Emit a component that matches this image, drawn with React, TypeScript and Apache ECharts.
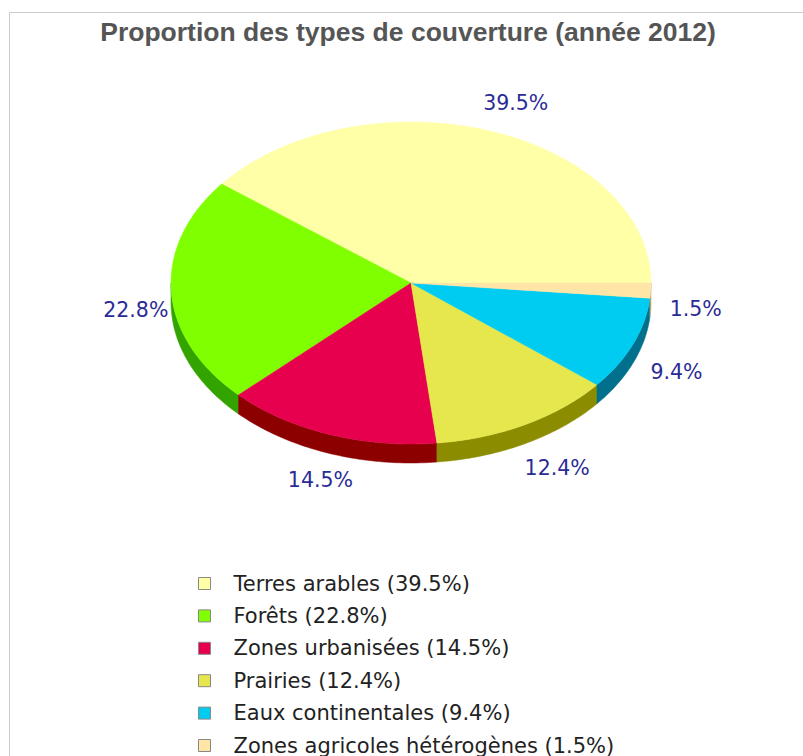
import React, { useEffect, useRef } from "react";
import * as echarts from "echarts";

const categories = [
  "Terres arables",
  "Forêts",
  "Zones urbanisées",
  "Prairies",
  "Eaux continentales",
  "Zones agricoles hétérogènes",
];
const shares = [39.5, 22.8, 14.5, 12.4, 9.4, 1.5];
const topColors = ["#FFFFA8", "#80FF00", "#E6004D", "#E6E64D", "#00CCF2", "#FFE6A6"];
const sideColors = ["#B3B375", "#33A300", "#8C0000", "#8C8C00", "#00708C", "#B3A174"];
const titleText = "Proportion des types de couverture (année 2012)";

export default function App() {
  const ref = useRef<HTMLDivElement>(null);
  useEffect(() => {
    if (!ref.current) return;
    const chart = echarts.init(ref.current, null, { renderer: "svg" });
    const total = shares.reduce((a, b) => a + b, 0);
    const cx = 411, cy = 283, rx = 240, ry = 161, depth = 19;
    const rad = (d: number) => (d * Math.PI) / 180;
    const pt = (a: number, dy = 0) => [cx + rx * Math.cos(rad(a)), cy - ry * Math.sin(rad(a)) + dy];

    const makeRender = (i: number) => (params: any, api: any) => {
      const before = shares.slice(0, i).reduce((a, b) => a + b, 0);
      const start = (before / total) * 360;
      const end = ((before + shares[i]) / total) * 360;
      const children: any[] = [];
      const lo = Math.max(start, 180), hi = Math.min(end, 360);
      if (hi > lo) {
        const topEdge: number[][] = [];
        const n = Math.max(2, Math.ceil(hi - lo));
        for (let k = 0; k <= n; k++) topEdge.push(pt(lo + ((hi - lo) * k) / n));
        const bottomEdge = topEdge.map((p) => [p[0], p[1] + depth]).reverse();
        children.push({
          type: "polygon",
          shape: { points: topEdge.concat(bottomEdge) },
          style: { fill: sideColors[i], stroke: sideColors[i], lineWidth: 0.5 },
        });
      }
      const pts: number[][] = [[cx, cy]];
      const n = Math.max(2, Math.ceil(end - start));
      for (let k = 0; k <= n; k++) pts.push(pt(start + ((end - start) * k) / n));
      children.push({
        type: "polygon",
        shape: { points: pts },
        style: { fill: topColors[i], stroke: topColors[i], lineWidth: 0.5 },
      });
      const mid = rad((start + end) / 2);
      const s = Math.sin(mid);
      const c = Math.cos(mid);
      const lx = 415.7 + 280.3 * c + (c > 0 ? 10 * s * s : 0);
      const ly = 284 - 191 * s + (s < 0 ? 16 : 0);
      children.push({
        type: "text",
        x: lx,
        y: ly,
        style: {
          text: shares[i].toFixed(1) + "%",
          fill: "#2B2B96",
          font: "20.5px 'DejaVu Sans'",
          align: "center",
          verticalAlign: "middle",
        },
      });
      return { type: "group", children };
    };

    chart.setOption({
      animation: false,
      backgroundColor: "#ffffff",
      title: {
        text: titleText,
        left: 408,
        textAlign: "center",
        top: 18,
        padding: 0,
        textStyle: {
          fontFamily: "'Liberation Sans', Arial, sans-serif",
          fontWeight: "bold",
          fontSize: 26.5,
          color: "#555555",
        },
      },
      graphic: [
        {
          type: "rect",
          shape: { x: 9.5, y: 12.5, width: 1000, height: 1000 },
          style: { fill: "none", stroke: "#cccccc", lineWidth: 1 },
          silent: true,
        },
      ],
      legend: {
        orient: "vertical",
        left: 198,
        top: 573,
        height: 300,
        padding: 0,
        itemWidth: 12,
        itemHeight: 12,
        itemGap: 11.4,
        icon: "rect",
        selectedMode: false,
        data: categories,
        formatter: (name: string) => {
          const idx = categories.indexOf(name);
          return `${name} (${shares[idx]}%)`;
        },
        itemStyle: { borderColor: "#888888", borderWidth: 1 },
        textStyle: {
          fontFamily: "'DejaVu Sans'",
          fontSize: 21,
          lineHeight: 20,
          color: "#222222",
          padding: [0, 0, 0, 18],
        },
      },
      series: categories.map((name, i) => ({
        type: "custom",
        name,
        coordinateSystem: "none",
        itemStyle: { color: topColors[i] },
        data: [[shares[i]]],
        renderItem: makeRender(i),
      })),
    });
    return () => chart.dispose();
  }, []);
  return <div ref={ref} style={{ position: "fixed", left: 0, top: 0, width: 803, height: 756 }} />;
}
